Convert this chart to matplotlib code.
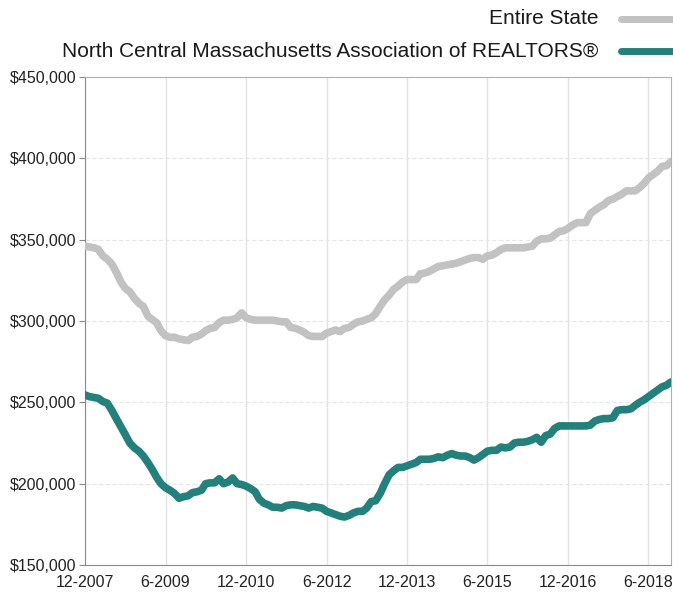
import pandas as pd
import matplotlib
matplotlib.use("Agg")
from matplotlib import pyplot as plt
from matplotlib.lines import Line2D
from matplotlib.ticker import FuncFormatter

# monthly median price, 12-2007 .. 11-2018, in $ thousands
start_month = "2007-12-01"

entire_state = [
    346, 345.5, 345, 344, 340, 338, 335, 330, 324, 320, 318, 314,
    311, 309, 303, 301, 299, 294, 291, 290, 290, 289, 288.5, 288,
    290, 290.5, 292, 294, 295.5, 296, 299, 300.5, 300.5, 301, 302, 305,
    302, 301, 300.5, 300.5, 300.5, 300.5, 300.5, 300, 299.5, 299.5, 296, 295.5,
    294.5, 293, 291, 290.5, 290.5, 290.5, 292.5, 293.5, 294.5, 293.5, 295.5, 296,
    298, 299.5, 300, 301, 302, 304.5, 309, 313, 316, 319.5, 321.5, 324,
    325.5, 325.5, 325.5, 329, 329.5, 330.5, 332, 333.5, 334, 334.5, 335, 335.5,
    336.5, 337.5, 338.5, 339, 339, 338, 340, 340.5, 342, 344, 345, 345,
    345, 345, 345, 345.5, 346, 349, 350.5, 350.5, 351, 353, 355, 355.5,
    357, 359, 360.5, 360.5, 360.5, 366, 368, 370, 371.5, 374, 375, 376.5,
    378, 380, 380, 380, 382, 384.5, 388, 390, 392, 395, 395.5, 398,
]

north_central = [
    254.5, 253.5, 253, 252.5, 250.5, 249.5, 245, 240, 235, 230, 225, 222,
    220, 217, 213, 209, 204, 200, 197.5, 196, 194, 191, 192, 192.5,
    194.5, 195, 196, 200, 200.5, 200.5, 203, 200, 201, 203.5, 200, 199.5,
    198.5, 197, 195, 190.5, 188, 187, 185.5, 185.5, 185, 186.5, 187, 187,
    186.5, 186, 185, 186, 185.5, 185, 183, 182, 181, 180, 179.5, 180.5,
    182, 183, 183, 185, 189, 189.5, 194, 200, 205.5, 208, 210, 210,
    211, 212, 213, 215, 215, 215, 215.5, 216.5, 216, 217.5, 218.5, 217.5,
    217, 217, 216, 214.5, 216, 218, 220, 220.5, 220.5, 222.5, 222, 222.5,
    225, 225.5, 225.5, 226, 227, 228.5, 225.5, 229.5, 230.5, 234, 235.5, 235.5,
    235.5, 235.5, 235.5, 235.5, 235.5, 236, 238.5, 239.5, 240, 240, 240.5, 245,
    245.5, 245.5, 246, 248, 250, 251.5, 253.5, 255.5, 257.5, 259.5, 260.5, 262.5,
]

series_names = ["Entire State", "North Central Massachusetts Association of REALTORS®"]
series_colors = ["#c2c2c2", "#23807b"]

dates = pd.date_range(start_month, periods=len(entire_state), freq="MS")
df = pd.DataFrame({"state": entire_state, "ncmar": north_central}, index=dates) * 1000

plt.rcParams["font.family"] = ["Liberation Sans", "DejaVu Sans"]

fig = plt.figure(figsize=(6.73, 5.92), dpi=100)
ax = fig.add_axes([0.1263, 0.0456, 0.8707, 0.8243])

ax.plot(df.index, df["state"], color=series_colors[0], lw=5.5, solid_capstyle="round", zorder=3)
ax.plot(df.index, df["ncmar"], color=series_colors[1], lw=5.5, solid_capstyle="round", zorder=4)

ax.set_xlim(dates[0], dates[-1])
ax.set_ylim(150000, 450000)
ax.set_yticks(range(150000, 450001, 50000))
ax.yaxis.set_major_formatter(FuncFormatter(lambda v, p: f"${v:,.0f}"))

xt = dates[::18]
ax.set_xticks(xt)
ax.set_xticklabels([f"{d.month}-{d.year}" for d in xt])

ax.grid(axis="x", color="#e3e3e3", lw=1, ls="-")
ax.grid(axis="y", color="#e6e6e6", lw=0.8, ls=(0, (4, 2)))
ax.set_axisbelow(True)

for side in ["left", "bottom"]:
    ax.spines[side].set_color("#8a8a8a")
for side in ["top", "right"]:
    ax.spines[side].set_color("#b0b0b0")

ax.tick_params(axis="y", length=4, color="#8a8a8a", labelsize=11.5, pad=2, labelcolor="#222222")
ax.tick_params(axis="x", length=0, labelsize=11.5, pad=7, labelcolor="#222222")

# legend at top right
legend_y = [0.968, 0.914]
for name, color, y in zip(series_names, series_colors, legend_y):
    fig.text(0.889, y, name, ha="right", va="center", fontsize=15, color="#1a1a1a")
    fig.add_artist(Line2D([0.922, 1.01], [y, y], color=color, lw=5, solid_capstyle="round"))

fig.savefig("out.png", dpi=100)
